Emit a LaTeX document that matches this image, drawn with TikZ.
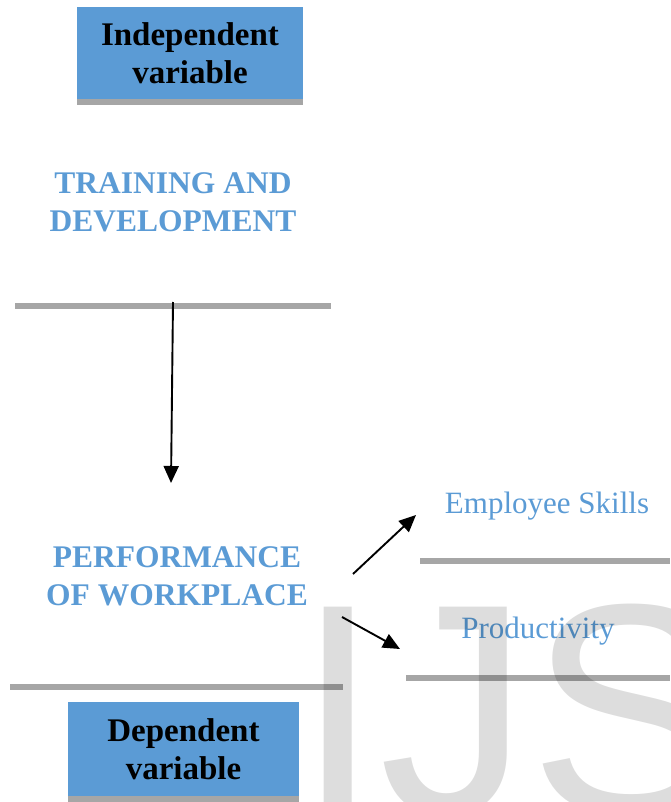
\documentclass[tikz,border=0pt]{standalone}
\usepackage{fontspec}
\setmainfont{Liberation Serif}
\newfontfamily\wmfont{Liberation Sans}
\usepackage{xcolor}
\usetikzlibrary{arrows.meta}
\definecolor{boxblue}{HTML}{5B9BD5}
\definecolor{bargray}{HTML}{A6A6A6}
\definecolor{wmgray}{HTML}{DDDDDD}

\begin{document}
\begin{tikzpicture}[x=1pt,y=-1pt,
		varbox/.style={fill=boxblue, align=center, inner sep=0pt, font=\fontsize{33}{38}\selectfont\bfseries},
		headtext/.style={text=boxblue, align=center, font=\fontsize{31.5}{38}\selectfont\bfseries},
		subtext/.style={text=boxblue, anchor=base, font=\fontsize{31}{36}\selectfont},
		bar/.style={draw=bargray, line width=5.5pt},
		link/.style={-{Triangle[length=17pt,width=15pt]}, line width=1.9pt}]
		\useasboundingbox (0,0) rectangle (670,802);
		\node[varbox, minimum width=226pt, minimum height=92pt] (indep) at (190,53) {Independent\\variable};
		\draw[bar] ([yshift=-2.75pt]indep.south west) -- ([yshift=-2.75pt]indep.south east);
		\node[headtext] (train) at (173,202) {TRAINING AND\\DEVELOPMENT};
		\draw[bar] (15,306) -- (331,306);
		\node[headtext] (perf) at (177,576) {PERFORMANCE\\OF WORKPLACE};
		\draw[bar] (10,687) -- (343,687);
		\node[varbox, minimum width=231pt, minimum height=94pt] (dep) at (183.5,749) {Dependent\\variable};
		\draw[bar] ([yshift=-2.75pt]dep.south west) -- ([yshift=-2.75pt]dep.south east);
		\node[subtext] (skills) at (547,513) {Employee Skills};
		\draw[bar] (420,561) -- (670,561);
		\node[subtext] (prod) at (538,638) {Productivity};
		\draw[bar] (406,678) -- (670,678);
		\coordinate (trainout) at (173,302);
		\coordinate (perfin) at (171,483);
		\coordinate (perfup) at (353,574);
		\coordinate (skillsin) at (416,515);
		\coordinate (perfdown) at (342,617);
		\coordinate (prodin) at (400,649);
		\draw[link] (trainout) -- (perfin);
		\draw[link] (perfup) -- (skillsin);
		\draw[link] (perfdown) -- (prodin);
		\begin{scope}[blend mode=multiply]
			\clip (0,0) rectangle (670,802);
			\node[anchor=base west, inner sep=0pt, text=wmgray, font=\wmfont\fontsize{300}{300}\selectfont] (wm) at (296,813) {IJS};
		\end{scope}
	\end{tikzpicture}
\end{document}
